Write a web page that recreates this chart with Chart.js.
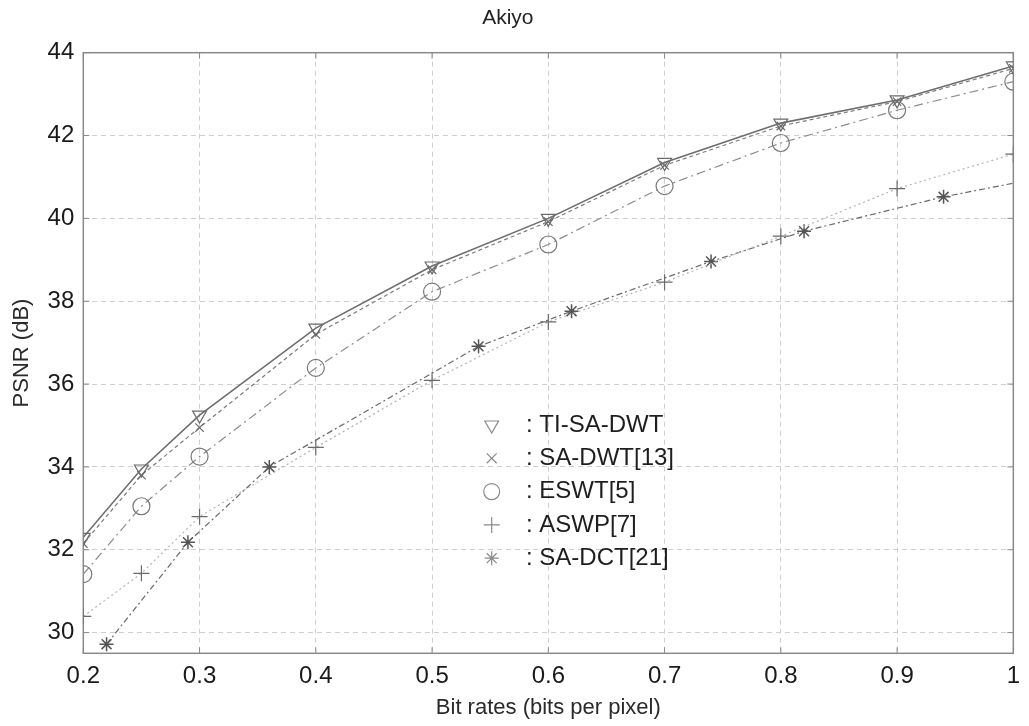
<!DOCTYPE html>
<html lang="en">
<head>
    <meta charset="UTF-8">
    <title>Akiyo</title>
    <script src="https://cdn.jsdelivr.net/npm/chart.js"></script>
    <style>
        html, body {
            margin: 0;
            padding: 0;
            background: #fff;
        }
    </style>
</head>
<body>
    <canvas id="psnrChart" width="1029" height="726"></canvas>

    <script>
        // bit rates (bpp) shared by the first four codecs
        const bitRates = [0.2, 0.25, 0.3, 0.4, 0.5, 0.6, 0.7, 0.8, 0.9, 1.0];
        const tiSaDwt = [32.3, 33.95, 35.25, 37.35, 38.85, 40.0, 41.35, 42.3, 42.86, 43.68];
        const saDwt = [32.15, 33.8, 34.95, 37.2, 38.76, 39.92, 41.28, 42.23, 42.82, 43.62];
        const eswt = [31.41, 33.05, 34.25, 36.39, 38.23, 39.37, 40.78, 41.82, 42.61, 43.3];
        const aswp = [30.39, 31.43, 32.8, 34.47, 36.09, 37.5, 38.46, 39.57, 40.72, 41.55];
        // SA-DCT was measured at its own rates
        const dctRates = [0.22, 0.29, 0.36, 0.54, 0.62, 0.74, 0.82, 0.94, 1.0];
        const saDct = [29.72, 32.18, 34.0, 36.91, 37.76, 38.96, 39.69, 40.52, 40.85];

        const seriesNames = ['TI-SA-DWT', 'SA-DWT[13]', 'ESWT[5]', 'ASWP[7]', 'SA-DCT[21]'];
        const xTicks = [0.2, 0.3, 0.4, 0.5, 0.6, 0.7, 0.8, 0.9, 1.0];
        const yTicks = [30, 32, 34, 36, 38, 40, 42, 44];

        const toPoints = (xs, ys) => xs.map((x, i) => ({ x: x, y: ys[i] }));
        const FONT = '"Liberation Sans", Arial, sans-serif';

        // matlab-like box with inward ticks on all sides
        const frame = {
            id: 'frame',
            beforeDatasetsDraw(chart) {
                const { ctx, chartArea: a, scales } = chart;
                ctx.save();
                ctx.strokeStyle = '#8a8a8a';
                ctx.lineWidth = 1.5;
                ctx.strokeRect(a.left, a.top, a.right - a.left, a.bottom - a.top);
                ctx.lineWidth = 1;
                ctx.beginPath();
                xTicks.forEach(v => {
                    const px = scales.x.getPixelForValue(v);
                    ctx.moveTo(px, a.bottom); ctx.lineTo(px, a.bottom - 6);
                    ctx.moveTo(px, a.top); ctx.lineTo(px, a.top + 6);
                });
                yTicks.forEach(v => {
                    const py = scales.y.getPixelForValue(v);
                    ctx.moveTo(a.left, py); ctx.lineTo(a.left + 6, py);
                    ctx.moveTo(a.right, py); ctx.lineTo(a.right - 6, py);
                });
                ctx.stroke();
                ctx.restore();
            }
        };

        // legend box sits inside the plot, no border
        const insideLegend = {
            id: 'insideLegend',
            afterDatasetsDraw(chart) {
                const ctx = chart.ctx;
                ctx.save();
                chart.data.datasets.forEach((ds, i) => {
                    const y = 425 + i * 33.3;
                    ctx.setLineDash([]);
                    ctx.strokeStyle = '#8a8a8a';
                    ctx.fillStyle = 'rgba(255,255,255,0)';
                    ctx.lineWidth = 1.2;
                    Chart.helpers.drawPoint(ctx, {
                        pointStyle: ds.pointStyle,
                        rotation: ds.pointRotation || 0,
                        radius: ds.legendRadius,
                        borderWidth: 1.2
                    }, 491.7, y);
                    ctx.fillStyle = '#1e1e1e';
                    ctx.font = '24px ' + FONT;
                    ctx.textBaseline = 'middle';
                    ctx.textAlign = 'left';
                    ctx.fillText(': ' + ds.label, 526, y);
                });
                ctx.restore();
            }
        };

        const lastHidden = r => ctx => ctx.dataIndex === ctx.dataset.data.length - 1 ? 0 : r;

        new Chart(document.getElementById('psnrChart'), {
            type: 'line',
            data: {
                datasets: [
                    {
                        label: seriesNames[0],
                        data: toPoints(bitRates, tiSaDwt),
                        borderColor: '#6e6e6e',
                        borderWidth: 1.6,
                        pointStyle: 'triangle',
                        pointRotation: 180,
                        pointRadius: 8,
                        legendRadius: 8,
                        pointBorderColor: '#6a6a6a',
                        pointBackgroundColor: 'rgba(255,255,255,0)',
                        pointBorderWidth: 1.2
                    },
                    {
                        label: seriesNames[1],
                        data: toPoints(bitRates, saDwt),
                        borderColor: '#7c7c7c',
                        borderWidth: 1.2,
                        borderDash: [4, 3],
                        pointStyle: 'crossRot',
                        pointRadius: 6,
                        legendRadius: 7,
                        pointBorderColor: '#6a6a6a',
                        pointBorderWidth: 1.2
                    },
                    {
                        label: seriesNames[2],
                        data: toPoints(bitRates, eswt),
                        borderColor: '#8c8c8c',
                        borderWidth: 1.2,
                        borderDash: [9, 4, 2, 4],
                        pointStyle: 'circle',
                        pointRadius: 8.5,
                        legendRadius: 8,
                        pointBorderColor: '#777',
                        pointBackgroundColor: 'rgba(255,255,255,0)',
                        pointBorderWidth: 1.2
                    },
                    {
                        label: seriesNames[3],
                        data: toPoints(bitRates, aswp),
                        borderColor: '#b4b4b4',
                        borderWidth: 1.2,
                        borderDash: [2, 3],
                        pointStyle: 'cross',
                        pointRadius: 8,
                        legendRadius: 8,
                        pointBorderColor: '#6a6a6a',
                        pointBorderWidth: 1.2
                    },
                    {
                        label: seriesNames[4],
                        data: toPoints(dctRates, saDct),
                        borderColor: '#6a6a6a',
                        borderWidth: 1.2,
                        borderDash: [6, 3, 2, 3],
                        pointStyle: 'star',
                        pointRadius: lastHidden(7),
                        legendRadius: 7,
                        pointBorderColor: '#555',
                        pointBorderWidth: 1.5
                    }
                ]
            },
            options: {
                responsive: false,
                animation: false,
                layout: { padding: { left: 0, right: 13.3, top: 0, bottom: 0 } },
                plugins: {
                    legend: { display: false },
                    tooltip: { enabled: false },
                    title: {
                        display: true,
                        text: 'Akiyo',
                        color: '#222',
                        font: { family: FONT, size: 21, weight: 'normal' },
                        padding: { top: 6, bottom: 21.5 }
                    }
                },
                scales: {
                    x: {
                        type: 'linear',
                        min: 0.2,
                        max: 1.0,
                        afterBuildTicks: s => { s.ticks = xTicks.map(v => ({ value: v })); },
                        afterFit: s => { s.height = 72.7; },
                        grid: { color: '#cfcfcf', lineWidth: 1, drawTicks: false },
                        border: { display: false, dash: [5, 4] },
                        ticks: {
                            padding: 9,
                            color: '#1a1a1a',
                            font: { family: FONT, size: 24 },
                            callback: v => (v === 1 ? '1' : v.toFixed(1))
                        },
                        title: {
                            display: true,
                            text: 'Bit rates (bits per pixel)',
                            color: '#2a2a2a',
                            font: { family: FONT, size: 22 },
                            padding: { top: 0, bottom: 5 }
                        }
                    },
                    y: {
                        min: 29.5,
                        max: 44,
                        afterBuildTicks: s => { s.ticks = yTicks.map(v => ({ value: v })); },
                        afterFit: s => { s.width = 83.3; },
                        grid: { color: '#cfcfcf', lineWidth: 1, drawTicks: false },
                        border: { display: false, dash: [5, 4] },
                        ticks: {
                            padding: 9,
                            color: '#1a1a1a',
                            font: { family: FONT, size: 24 }
                        },
                        title: {
                            display: true,
                            text: 'PSNR (dB)',
                            color: '#2a2a2a',
                            font: { family: FONT, size: 22 },
                            padding: { top: 9, bottom: 0 }
                        }
                    }
                }
            },
            plugins: [frame, insideLegend]
        });
    </script>
</body>
</html>
